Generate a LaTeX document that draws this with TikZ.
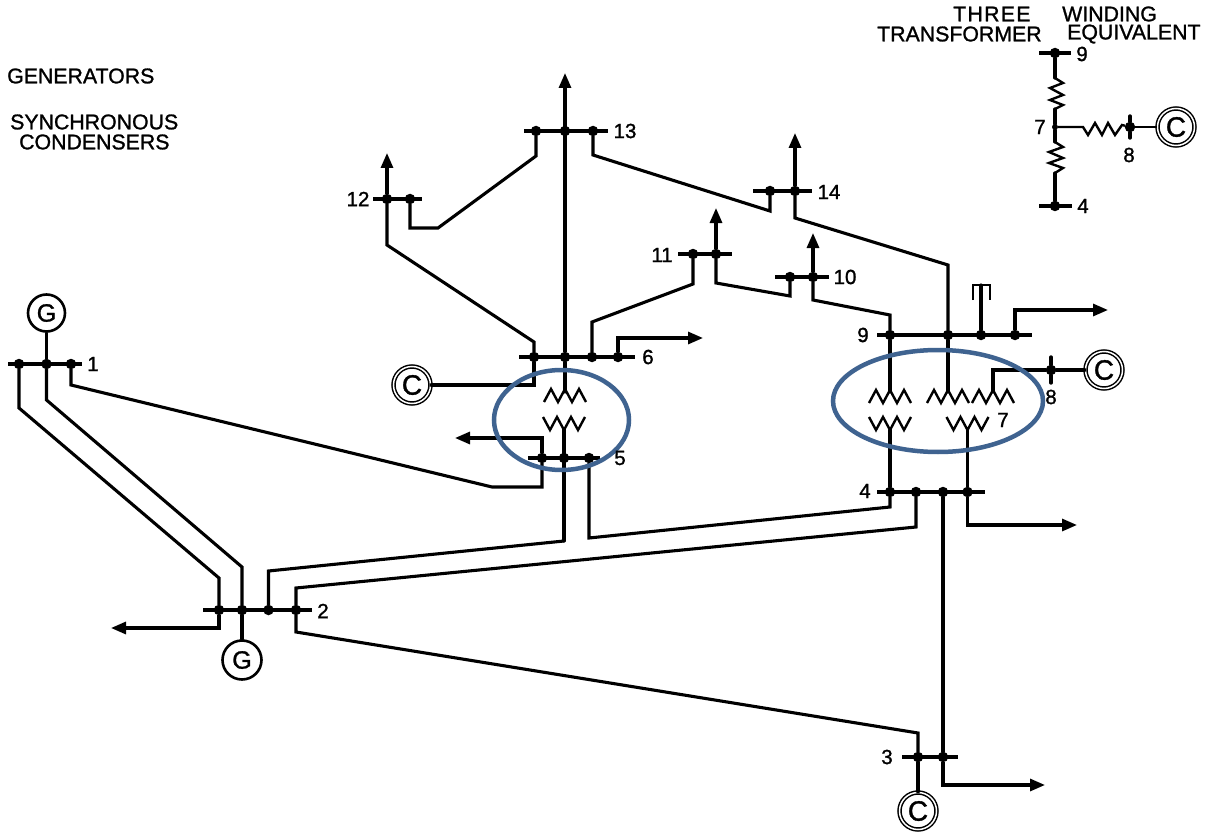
\documentclass[tikz,border=0pt]{standalone}
\usepackage{fontspec}
\setmainfont{Liberation Sans}
\newfontfamily\boldish[FakeBold=1.2]{Liberation Sans}
\newfontfamily\spaced[FakeBold=1.2,LetterSpace=6]{Liberation Sans}
\usetikzlibrary{arrows.meta}
\tikzset{
  x=1pt,y=-1pt,
  wire/.style={draw=black,line width=3.1pt,line join=miter,line cap=round},
  load/.style={draw=black,line width=3.1pt,line join=miter,-{Triangle[length=15pt,width=12pt]}},
  coil/.style={draw=black,line width=2.4pt,line join=miter},
  busbar/.style={fill=black,inner sep=0pt,minimum height=3.6pt,outer sep=0pt},
  dotn/.style={circle,fill=black,inner sep=0pt,minimum size=10.5pt,outer sep=0pt},
  smalldot/.style={circle,fill=black,inner sep=0pt,minimum size=6pt,outer sep=0pt},
  gen/.style={circle,draw=black,line width=2.6pt,inner sep=0pt,minimum size=37pt,font=\boldish\fontsize{25}{25}\selectfont},
  cond/.style={circle,draw=black,line width=1.5pt,double=white,double distance=1.5pt,inner sep=0pt,minimum size=37pt,font=\boldish\fontsize{28}{28}\selectfont},
  lab/.style={inner sep=0pt,font=\boldish\fontsize{20.5}{20.5}\selectfont},
  head/.style={inner sep=0pt,anchor=west,font=\boldish\fontsize{21.3}{21.3}\selectfont},
  ring/.style={draw=ringblue,line width=4.5pt},
}
\definecolor{ringblue}{HTML}{3F6390}
\newcommand{\wup}[2]{\draw[coil] (#1-21,#2+13) -- ++(7,-13) -- ++(7,13) -- ++(7,-13) -- ++(7,13) -- ++(7,-13) -- ++(7,13);}
\newcommand{\wdn}[2]{\draw[coil] (#1-21,#2) -- ++(7,13) -- ++(7,-13) -- ++(7,13) -- ++(7,-13) -- ++(7,13) -- ++(7,-13);}
\begin{document}
\begin{tikzpicture}
\useasboundingbox[fill=white] (0,0) rectangle (1211,832);
% bus bars
\node[busbar,minimum width=74pt] (bus1) at (45,364) {};
\node[busbar,minimum width=109pt] (bus2) at (257.5,610) {};
\node[busbar,minimum width=56pt] (bus3) at (930,757) {};
\node[busbar,minimum width=108pt] (bus4) at (931,492) {};
\node[busbar,minimum width=72pt] (bus5) at (564,458) {};
\node[busbar,minimum width=116pt] (bus6) at (577,357) {};
\node[busbar,minimum width=155pt] (bus9) at (954.5,335) {};
\node[busbar,minimum width=54pt] (bus10) at (801.5,277) {};
\node[busbar,minimum width=54pt] (bus11) at (705,254) {};
\node[busbar,minimum width=49pt] (bus12) at (397.5,199) {};
\node[busbar,minimum width=84pt] (bus13) at (566,131) {};
\node[busbar,minimum width=59pt] (bus14) at (782.5,191) {};
\node[busbar,minimum width=32pt] (ins9) at (1055,53) {};
\node[busbar,minimum width=33pt] (ins4) at (1055.5,206) {};
% dots
\foreach \n/\x/\y in {a1/19/364,b1/46.5/364,c1/71/364,
  a2/219/610,b2/242/610,c2/268.5/610,d2/296/610,
  a3/918/757,b3/943/757,
  a4/890/492,b4/916/492,c4/943/492,d4/967.5/492,
  a5/542/458,b5/564/458,c5/589/458,
  a6/534/357,b6/565/357,c6/592/357,d6/618/357,
  a9/890/335,b9/948/335,c9/981/335,d9/1015/335,
  a10/790/277,b10/813/277,
  a11/693/254,b11/716/254,
  a12/387/199,b12/410/199,
  a13/536/131,b13/565/131,c13/593/131,
  a14/770/191,b14/795/191,
  i9/1055/53,i4/1055/206}
  {\node[dotn] (\n) at (\x,\y) {};}
\node[dotn] (n8) at (1051,370) {};
\node[dotn] (i8) at (1130,127) {};
\node[smalldot] (i7) at (1055,127) {};
% machines
\node[gen] (g1) at (46.5,313) {G};
\node[gen,minimum size=39pt] (g2) at (242,660) {G};
\node[cond] (m3) at (918,811) {C};
\node[cond] (m6) at (412,385) {C};
\node[cond] (m8) at (1104,370) {C};
\node[cond] (mi) at (1176,127) {C};
% free ends
\coordinate (l2) at (111,628);
\coordinate (l3) at (1045,785);
\coordinate (l4) at (1077,525);
\coordinate (l5) at (455,438);
\coordinate (l6) at (703,338);
\coordinate (l9) at (1108,310);
\coordinate (l10) at (813,233);
\coordinate (l11) at (716,208);
\coordinate (l12) at (387,153);
\coordinate (l13) at (565,73);
\coordinate (l14) at (795,133);
\coordinate (t6) at (565,392);
\coordinate (t5) at (564,429);
\coordinate (t9) at (890,392);
\coordinate (t4) at (890,430);
\coordinate (t9m) at (948,392);
\coordinate (t8) at (993,392);
\coordinate (t4m) at (967.5,430);
\coordinate (j564) at (564,541);
\coordinate (j589) at (589,538);
% generator and condenser stubs
\draw[wire] (g1) -- (b1);
\draw[wire] (g2) -- (b2);
\draw[wire] (m3) -- (a3);
\draw[wire] (m6) -- (534,385) -- (a6);
% lines
\draw[wire] (a1) -- (19,408) -- (219,578) -- (a2);
\draw[wire] (b1) -- (46.5,400) -- (242,567) -- (b2);
\draw[wire] (c1) -- (71,385) -- (492,487) -- (542,487) -- (a5);
\draw[wire] (c2) -- (268.5,571) -- (j564);
\draw[wire] (t5) -- (j564);
\draw[wire] (c5) -- (j589) -- (890,507) -- (a4);
\draw[wire] (d2) -- (296,588) -- (916,527) -- (b4);
\draw[wire] (d2) -- (296,632) -- (918,733) -- (a3);
\draw[wire] (c4) -- (b3);
\draw[wire] (a4) -- (t4);
\draw[wire] (a9) -- (t9);
\draw[wire] (b9) -- (t9m);
\draw[wire] (d4) -- (t4m);
\draw[wire] (a6) -- (534,342) -- (387,245) -- (a12);
\draw[wire] (b12) -- (410,228) -- (438,228) -- (536,156) -- (a13);
\draw[wire] (c13) -- (593,155) -- (770,211) -- (a14);
\draw[wire] (b14) -- (795,218) -- (948,265) -- (b9);
\draw[wire] (c6) -- (592,322) -- (693,284) -- (a11);
\draw[wire] (b11) -- (716,283) -- (790,296) -- (a10);
\draw[wire] (b10) -- (813,300) -- (890,315) -- (a9);
\draw[wire] (b6) -- (t6);
\draw[wire] (t8) -- (993,370) -- (n8);
\draw[wire] (n8) -- (m8);
\draw[wire,line width=3.4pt] (1051,357) -- (n8) -- (1051,383);
% loads
\draw[load] (a5) -- (542,438) -- (l5);
\draw[load] (a2) -- (219,628) -- (l2);
\draw[load] (b3) -- (943,785) -- (l3);
\draw[load] (d4) -- (967.5,525) -- (l4);
\draw[load] (d6) -- (618,338) -- (l6);
\draw[load] (d9) -- (1015,310) -- (l9);
\draw[load] (b10) -- (l10);
\draw[load] (b11) -- (l11);
\draw[load] (a12) -- (l12);
\draw[load] (b6) -- (l13);
\draw[load] (b14) -- (l14);
% shunt capacitor at bus 9
\draw[wire] (c9) -- (981,285);
\draw[coil] (973,300) -- (973,285) -- (990,285) -- (990,300);
% windings
\wup{565}{389}
\wdn{564}{417}
\wup{890}{390}
\wdn{890}{417}
\wup{948}{390}
\wup{993}{390}
\wdn{967.5}{417}
% inset
\draw[wire,line width=3.2pt] (i9) -- (1055,78);
\draw[coil] (1055,78) -- (1063,83) -- (1050,88) -- (1063,95) -- (1050,100) -- (1063,105) -- (1055,109);
\draw[wire,line width=3.2pt] (1055,109) -- (i7) -- (1055,142);
\draw[coil] (1055,142) -- (1063,147) -- (1049,152) -- (1063,158) -- (1049,163) -- (1063,168) -- (1055,173);
\draw[wire,line width=3.2pt] (1055,173) -- (i4);
\draw[coil] (i7) -- (1083,127) -- (1088,135) -- (1095,123) -- (1102,135) -- (1108,123) -- (1115,135) -- (1122,125) -- (i8);
\draw[coil] (i8) -- (mi);
\draw[wire,line width=3.4pt] (1130,116) -- (i8) -- (1130,138);
% rings
\draw[ring] (561.5,420) ellipse [x radius=67.5,y radius=50];
\draw[ring] (938,401) ellipse [x radius=105,y radius=51];
% labels
\node[lab] (t1) at (93,364) {1};
\node[lab] (t2) at (323,611) {2};
\node[lab] (t3) at (887,757) {3};
\node[lab] (t4n) at (865,491) {4};
\node[lab] (t5n) at (620,458) {5};
\node[lab] (t6n) at (648,357) {6};
\node[lab] (t7) at (1003,420) {7};
\node[lab] (t8n) at (1051,397) {8};
\node[lab] (t9n) at (863,335) {9};
\node[lab] (t10) at (845,277) {10};
\node[lab] (t11) at (662,255) {11};
\node[lab] (t12) at (358,199) {12};
\node[lab] (t13) at (625,131) {13};
\node[lab] (t14) at (829,192) {14};
\node[lab] (i9n) at (1082,54) {9};
\node[lab] (i4n) at (1083,206) {4};
\node[lab] (i7n) at (1040,127) {7};
\node[lab] (i8n) at (1129,155) {8};
\node[head,font=\spaced\fontsize{21.3}{21.3}\selectfont] (h1) at (953,14) {THREE};
\node[head] (h2) at (1062,14) {WINDING};
\node[head] (h3) at (877,34) {TRANSFORMER};
\node[head] (h4) at (1067,34) {EQUIVALENT};
\node[head] (h5) at (7,76) {GENERATORS};
\node[head] (h6) at (10,122) {SYNCHRONOUS};
\node[head] (h7) at (19,142) {CONDENSERS};
\end{tikzpicture}
\end{document}
